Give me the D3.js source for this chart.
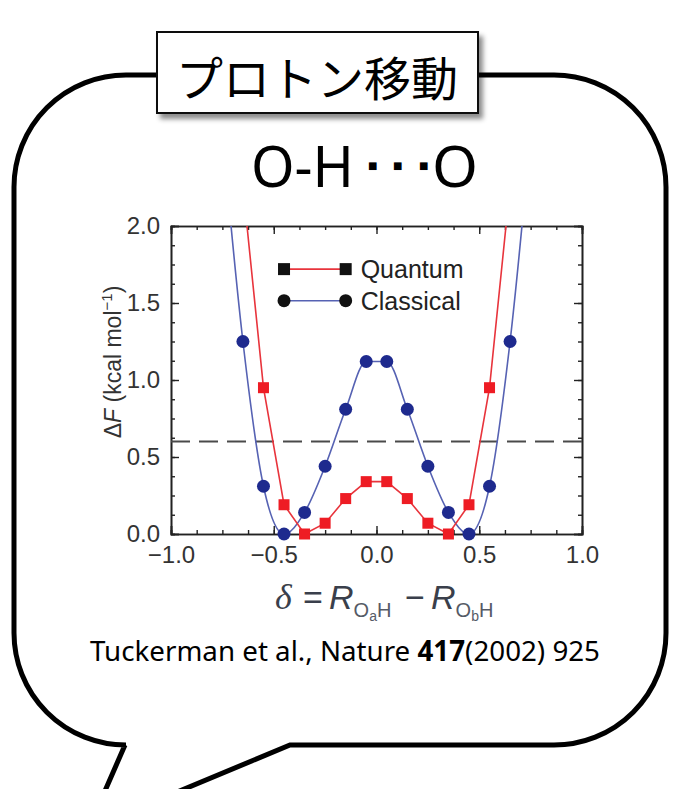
<!DOCTYPE html>
<html>
<head>
<meta charset="utf-8">
<script src="https://cdn.jsdelivr.net/npm/d3@7"></script>
<style>
  body { margin: 0; background: #fff; }
  svg { display: block; }
</style>
</head>
<body>
<svg id="c" width="675" height="789"></svg>
<script>
// ---- data: free-energy profile along the proton-transfer coordinate ----
const deltaQuantum = [-0.65, -0.55, -0.45, -0.35, -0.25, -0.15, -0.05, 0.05, 0.15, 0.25, 0.35, 0.45, 0.55, 0.65];
const quantumF     = [ 2.26,  0.95,  0.19,  0.00,  0.07,  0.23,  0.34, 0.34, 0.23, 0.07, 0.00, 0.19, 0.95, 2.26];

const deltaClassical = [-0.75, -0.65, -0.55, -0.45, -0.35, -0.25, -0.15, -0.05, 0.05, 0.15, 0.25, 0.35, 0.45, 0.55, 0.65, 0.75];
const classicalF     = [ 2.60,  1.25,  0.31,  0.00,  0.14,  0.44,  0.81,  1.12, 1.12, 0.81, 0.44, 0.14, 0.00, 0.31, 1.25, 2.60];

const thermalLevel = [0.6];          // horizontal dashed reference level

const xMajorTicks = [-1.0, -0.5, 0.0, 0.5, 1.0];
const xTickLabels = ["\u22121.0", "\u22120.5", "0.0", "0.5", "1.0"];
const yMajorTicks = [0.0, 0.5, 1.0, 1.5, 2.0];
const yTickLabels = ["0.0", "0.5", "1.0", "1.5", "2.0"];

const seriesNames = ["Quantum", "Classical"];

// ---- layout ----
const svg = d3.select("#c");
const plot = { left: 171, right: 582, top: 226, bottom: 534 };

const x = d3.scaleLinear().domain([-1, 1]).range([plot.left, plot.right]);
const y = d3.scaleLinear().domain([0, 2]).range([plot.bottom, plot.top]);

const defs = svg.append("defs");
defs.append("clipPath").attr("id", "plotClip")
  .append("rect")
  .attr("x", plot.left).attr("y", plot.top)
  .attr("width", plot.right - plot.left).attr("height", plot.bottom - plot.top);

const shadow = defs.append("filter").attr("id", "boxShadow")
  .attr("x", "-10%").attr("y", "-20%").attr("width", "130%").attr("height", "150%");
shadow.append("feDropShadow")
  .attr("dx", 4).attr("dy", 5).attr("stdDeviation", 2.5)
  .attr("flood-color", "#000").attr("flood-opacity", 0.45);

// ---- speech bubble ----
const L = 14, R = 666, T = 75, B = 745, rad = 112;
const bubblePath = [
  `M 290 ${B}`,
  `L ${R - rad} ${B}`,
  `A ${rad} ${rad} 0 0 0 ${R} ${B - rad}`,
  `L ${R} ${T + rad}`,
  `A ${rad} ${rad} 0 0 0 ${R - rad} ${T}`,
  `L ${L + rad} ${T}`,
  `A ${rad} ${rad} 0 0 0 ${L} ${T + rad}`,
  `L ${L} ${B - rad}`,
  `A ${rad} ${rad} 0 0 0 ${L + rad} ${B}`,
  `L 125 ${B}`,
  `L 101 800`,
  `L 158 800`,
  `Z`
].join(" ");
svg.append("path")
  .attr("d", bubblePath)
  .attr("fill", "#fff")
  .attr("stroke", "#000")
  .attr("stroke-width", 5)
  .attr("stroke-linejoin", "miter");

// ---- title box ----
svg.append("rect")
  .attr("x", 157).attr("y", 32).attr("width", 321).attr("height", 81)
  .attr("fill", "#fff").attr("stroke", "#111").attr("stroke-width", 2)
  .attr("filter", "url(#boxShadow)");
svg.append("text")
  .attr("x", 317).attr("y", 96)
  .attr("text-anchor", "middle")
  .attr("font-family", "'Noto Sans CJK JP', sans-serif")
  .attr("font-size", 47)
  .attr("fill", "#000")
  .text("プロトン移動");

// ---- bond label: O-H···O ----
const bond = svg.append("text")
  .attr("y", 187)
  .attr("font-family", "'Noto Sans', 'DejaVu Sans', sans-serif")
  .attr("font-size", 57)
  .attr("fill", "#000");
bond.append("tspan").attr("x", 251).attr("textLength", 103)
  .attr("lengthAdjust", "spacingAndGlyphs").text("O-H");
[368, 393, 419].forEach(px => {
  bond.append("tspan").attr("x", px).attr("y", 169)
    .attr("font-family", "'DejaVu Sans', sans-serif")
    .attr("font-size", 10).text("\u25A0");
});
bond.append("tspan").attr("x", 432).attr("y", 187).attr("textLength", 46)
  .attr("lengthAdjust", "spacingAndGlyphs").text("O");

// ---- axes ----
const axisColor = "#222";
const tickFont = "'Liberation Sans', Arial, sans-serif";

function styleAxis(g) {
  g.select(".domain").attr("stroke", axisColor).attr("stroke-width", 1.6);
  g.selectAll(".tick line").attr("stroke", axisColor).attr("stroke-width", 1.4);
  g.selectAll(".tick text")
    .attr("fill", "#333")
    .attr("font-family", tickFont)
    .attr("font-size", 24);
}

const xMinor = d3.range(-1, 1.0001, 0.125);
const yMinor = d3.range(0, 2.0001, 0.125);

// minor ticks (all four sides, pointing inward)
svg.append("g").attr("transform", `translate(0,${plot.bottom})`)
  .call(d3.axisBottom(x).tickValues(xMinor).tickSize(-4).tickFormat(""))
  .call(styleAxis);
svg.append("g").attr("transform", `translate(0,${plot.top})`)
  .call(d3.axisTop(x).tickValues(xMinor).tickSize(-4).tickFormat(""))
  .call(styleAxis);
svg.append("g").attr("transform", `translate(${plot.left},0)`)
  .call(d3.axisLeft(y).tickValues(yMinor).tickSize(-4).tickFormat(""))
  .call(styleAxis);
svg.append("g").attr("transform", `translate(${plot.right},0)`)
  .call(d3.axisRight(y).tickValues(yMinor).tickSize(-4).tickFormat(""))
  .call(styleAxis);

// major ticks with labels
svg.append("g").attr("transform", `translate(0,${plot.bottom})`)
  .call(d3.axisBottom(x).tickValues(xMajorTicks).tickSize(-8).tickPadding(6)
    .tickFormat((d, i) => xTickLabels[i]))
  .call(styleAxis)
  .call(g => g.selectAll(".tick text").attr("dy", "0.95em"));
svg.append("g").attr("transform", `translate(0,${plot.top})`)
  .call(d3.axisTop(x).tickValues(xMajorTicks).tickSize(-8).tickFormat(""))
  .call(styleAxis);
svg.append("g").attr("transform", `translate(${plot.left},0)`)
  .call(d3.axisLeft(y).tickValues(yMajorTicks).tickSize(-8).tickPadding(11)
    .tickFormat((d, i) => yTickLabels[i]))
  .call(styleAxis);
svg.append("g").attr("transform", `translate(${plot.right},0)`)
  .call(d3.axisRight(y).tickValues(yMajorTicks).tickSize(-8).tickFormat(""))
  .call(styleAxis);

// ---- reference level ----
svg.append("g").selectAll("line")
  .data(thermalLevel)
  .join("line")
  .attr("x1", plot.left).attr("x2", plot.right)
  .attr("y1", d => y(d)).attr("y2", d => y(d))
  .attr("stroke", "#4a4a4a")
  .attr("stroke-width", 2)
  .attr("stroke-dasharray", "19,9");

// ---- series ----
const redLine = "#e8343c", redMark = "#ee1c24";
const blueLine = "#5662b3", blueMark = "#1e2a8e";

const quantumPts = deltaQuantum.map((d, i) => ({ d, f: quantumF[i] }));
const classicalPts = deltaClassical.map((d, i) => ({ d, f: classicalF[i] }));

const plotArea = svg.append("g").attr("clip-path", "url(#plotClip)");

plotArea.append("path")
  .datum(classicalPts)
  .attr("fill", "none")
  .attr("stroke", blueLine)
  .attr("stroke-width", 1.6)
  .attr("d", d3.line().x(p => x(p.d)).y(p => y(p.f)).curve(d3.curveMonotoneX));

plotArea.append("path")
  .datum(quantumPts)
  .attr("fill", "none")
  .attr("stroke", redLine)
  .attr("stroke-width", 1.6)
  .attr("d", d3.line().x(p => x(p.d)).y(p => y(p.f)));

const inRange = p => p.f <= 2.0;
const sq = 11;

svg.append("g").selectAll("circle")
  .data(classicalPts.filter(inRange))
  .join("circle")
  .attr("cx", p => x(p.d)).attr("cy", p => y(p.f))
  .attr("r", 6.5)
  .attr("fill", blueMark);

svg.append("g").selectAll("rect")
  .data(quantumPts.filter(inRange))
  .join("rect")
  .attr("x", p => x(p.d) - sq / 2).attr("y", p => y(p.f) - sq / 2)
  .attr("width", sq).attr("height", sq)
  .attr("fill", redMark);

// ---- legend ----
const legX0 = x(-0.45), legX1 = x(-0.15);
const legY = [y(1.72), y(1.515)];
const leg = svg.append("g");

leg.append("line")
  .attr("x1", legX0).attr("x2", legX1).attr("y1", legY[0]).attr("y2", legY[0])
  .attr("stroke", redLine).attr("stroke-width", 1.6);
leg.selectAll("rect.lq").data([legX0, legX1]).join("rect")
  .attr("class", "lq")
  .attr("x", d => d - 6).attr("y", legY[0] - 6).attr("width", 12).attr("height", 12)
  .attr("fill", "#111");

leg.append("line")
  .attr("x1", legX0).attr("x2", legX1).attr("y1", legY[1]).attr("y2", legY[1])
  .attr("stroke", blueLine).attr("stroke-width", 1.6);
leg.selectAll("circle.lc").data([legX0, legX1]).join("circle")
  .attr("class", "lc")
  .attr("cx", d => d).attr("cy", legY[1]).attr("r", 6.5)
  .attr("fill", "#111");

leg.selectAll("text").data(seriesNames).join("text")
  .attr("x", legX1 + 15)
  .attr("y", (d, i) => legY[i] + 9)
  .attr("font-family", tickFont)
  .attr("font-size", 25)
  .attr("fill", "#222")
  .text(d => d);

// ---- axis titles ----
const yTitle = svg.append("text")
  .attr("transform", "translate(121,362) rotate(-90)")
  .attr("text-anchor", "middle")
  .attr("font-family", tickFont)
  .attr("font-size", 23)
  .attr("fill", "#333");
yTitle.append("tspan").text("\u0394");
yTitle.append("tspan").attr("font-style", "italic").text("F");
yTitle.append("tspan").text(" (kcal mol");
yTitle.append("tspan").attr("font-size", 15).attr("dy", -9).text("\u22121");
yTitle.append("tspan").attr("dy", 9).text(")");

const formulaColor = "#3a3f4b";
const subColor = "#555a66";
const xTitle = svg.append("text")
  .attr("x", 275).attr("y", 609)
  .attr("font-family", tickFont)
  .attr("font-size", 34)
  .attr("fill", formulaColor);
xTitle.append("tspan")
  .attr("font-family", "'Liberation Serif', 'Times New Roman', serif")
  .attr("font-style", "italic").attr("font-size", 36).text("\u03B4");
xTitle.append("tspan").attr("x", 303).text("=");
xTitle.append("tspan").attr("x", 329).attr("font-style", "italic").text("R");
xTitle.append("tspan").attr("font-size", 20).attr("dy", 8).attr("fill", subColor).text("O");
xTitle.append("tspan").attr("font-size", 14).attr("dy", 4).attr("fill", subColor).text("a");
xTitle.append("tspan").attr("font-size", 20).attr("dy", -4).attr("fill", subColor).text("H");
xTitle.append("tspan").attr("x", 405).attr("dy", -8).text("\u2212");
xTitle.append("tspan").attr("x", 431).attr("font-style", "italic").text("R");
xTitle.append("tspan").attr("font-size", 20).attr("dy", 8).attr("fill", subColor).text("O");
xTitle.append("tspan").attr("font-size", 14).attr("dy", 4).attr("fill", subColor).text("b");
xTitle.append("tspan").attr("font-size", 20).attr("dy", -4).attr("fill", subColor).text("H");

// ---- citation ----
const cite = svg.append("text")
  .attr("x", 90).attr("y", 661)
  .attr("font-family", "'Noto Sans', 'DejaVu Sans', sans-serif")
  .attr("font-size", 28)
  .attr("textLength", 510)
  .attr("lengthAdjust", "spacingAndGlyphs")
  .attr("fill", "#000");
cite.append("tspan").text("Tuckerman et al., Nature ");
cite.append("tspan").attr("font-weight", "bold").text("417");
cite.append("tspan").text("(2002) 925");
</script>
</body>
</html>
